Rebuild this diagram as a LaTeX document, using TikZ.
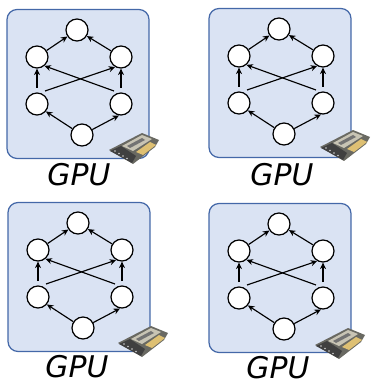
\documentclass[tikz,border=0pt]{standalone}
\usepackage{fontspec}
\setmainfont{DejaVu Sans}
\usetikzlibrary{arrows.meta, positioning}
\definecolor{panelfill}{RGB}{218,227,243}
\definecolor{paneledge}{RGB}{68,104,168}
\definecolor{boardgray}{RGB}{105,105,98}
\definecolor{cardgold}{RGB}{222,192,115}
\definecolor{cardpale}{RGB}{200,196,180}

\begin{document}
\begin{tikzpicture}[
    x=0.02cm, y=-0.02cm,
    panel/.style={draw=paneledge, fill=panelfill, rounded corners=0.2cm, line width=0.7pt},
    vertex/.style={draw, circle, fill=white, minimum size=0.44cm, inner sep=0pt, line width=0.7pt},
    arrow/.style={-{Stealth[length=1.3mm, width=1.2mm]}, line width=0.65pt},
    gpulabel/.style={inner sep=0pt, font=\fontsize{17}{18}\selectfont\itshape}
]
    \useasboundingbox (0,0) rectangle (370,381);
    \foreach \name/\dx/\dy/\lx/\ly/\cx/\cy in {a/0/0/79/175/0/0, b/202/-1/282/175/211/-3, c/1/193/77/367/9/193, d/202/194/278/368/206/195} {
        \begin{scope}[shift={(\dx,\dy)}]
            % Panel
            \node[panel, minimum width=2.84cm, minimum height=2.98cm, inner sep=0pt] (\name box) at (78,84) {};

            % Task graph
            \node[vertex] (\name top) at (77,30) {};
            \node[vertex] (\name upl) at (37,57) {};
            \node[vertex] (\name upr) at (121,57) {};
            \node[vertex] (\name lowl) at (37,104) {};
            \node[vertex] (\name lowr) at (121,104) {};
            \node[vertex] (\name bot) at (82,135) {};

            % Free arrow tails
            \coordinate (\name tailul) at (37,88);
            \coordinate (\name tailur) at (121,88);
            \coordinate (\name tailxl) at (45,91);
            \coordinate (\name tailxr) at (114,91);

            % Arrows
            \draw[arrow] (\name bot) -- (\name lowl.-40);
            \draw[arrow] (\name bot) -- (\name lowr.-100);
            \draw[arrow] (\name tailul) -- (\name upl);
            \draw[arrow] (\name tailur) -- (\name upr);
            \draw[arrow] (\name tailxl) -- (\name upr.240);
            \draw[arrow] (\name tailxr) -- (\name upl.-50);
            \draw[arrow] (\name upl) -- (\name top);
            \draw[arrow] (\name upr) -- (\name top);
        \end{scope}
        \begin{scope}[shift={(\cx,\cy)}]
            % Card
            \fill[boardgray] (109,150) -- (142,133) -- (159,140) -- (155,147) -- (133,164) -- cycle;
            \fill[black!75] (110,151) -- (121,146) -- (136,156) -- (132,163) -- cycle;
            \fill[cardpale] (122,146) -- (142,135) -- (152,139) -- (133,151) -- cycle;
            \fill[black!55] (127,146) -- (142,138) -- (145,140) -- (130,148) -- cycle;
            \fill[cardgold] (136,152) -- (150,142) -- (156,145) -- (143,155) -- cycle;
            \foreach \spot in {0,...,3}
                \fill[white!80!black] (115+\spot*4,151+\spot*2.5) circle (0.9);
        \end{scope}
        \node[gpulabel] (\name label) at (\lx,\ly) {GPU};
    }
\end{tikzpicture}
\end{document}
